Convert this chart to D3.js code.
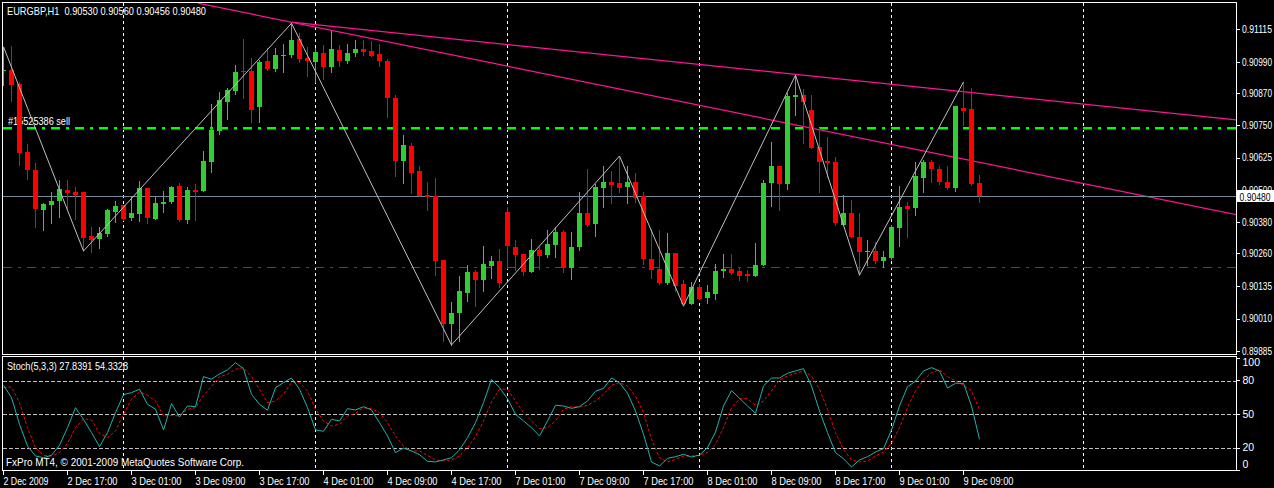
<!DOCTYPE html>
<html><head><meta charset="utf-8">
<script src="https://cdn.jsdelivr.net/npm/d3@7"></script>
<style>html,body{margin:0;padding:0;background:#000;overflow:hidden}text{font-family:"Liberation Sans",Arial,sans-serif}</style>
</head><body><svg id="c" width="1274" height="488"></svg>
<script>
const headerText = "EURGBP,H1  0.90530 0.90560 0.90456 0.90480";
const opens  = [0.90958,0.90961,0.90908,0.90648,0.90579,0.90427,0.90446,0.90461,0.90503,0.90495,0.90495,0.90327,0.90316,0.90335,0.90419,0.90446,0.90397,0.90413,0.90512,0.90393,0.90451,0.90457,0.90519,0.90388,0.90503,0.90499,0.90610,0.90728,0.90839,0.90881,0.90956,0.90958,0.90820,0.90996,0.90965,0.91015,0.91019,0.91080,0.91007,0.90992,0.91026,0.90973,0.91038,0.90996,0.91026,0.91042,0.91034,0.91022,0.90996,0.90854,0.90614,0.90671,0.90576,0.90484,0.90480,0.90235,0.89991,0.90033,0.90110,0.90190,0.90159,0.90213,0.90232,0.90419,0.90285,0.90259,0.90190,0.90274,0.90255,0.90293,0.90343,0.90205,0.90285,0.90415,0.90373,0.90511,0.90534,0.90530,0.90514,0.90534,0.90480,0.90239,0.90201,0.90148,0.90262,0.90144,0.90068,0.90132,0.90090,0.90106,0.90194,0.90201,0.90194,0.90182,0.90175,0.90217,0.90530,0.90595,0.90526,0.90858,0.90866,0.90809,0.90667,0.90614,0.90610,0.90369,0.90415,0.90324,0.90266,0.90270,0.90232,0.90243,0.90358,0.90442,0.90434,0.90549,0.90610,0.90583,0.90534,0.90511,0.90816,0.90812,0.90530];
const highs  = [0.91050,0.91053,0.90916,0.90679,0.90605,0.90455,0.90495,0.90541,0.90541,0.90516,0.90495,0.90363,0.90361,0.90432,0.90461,0.90446,0.90477,0.90537,0.90512,0.90477,0.90500,0.90518,0.90529,0.90516,0.90526,0.90652,0.90832,0.90877,0.90893,0.90981,0.91080,0.91006,0.91000,0.91044,0.91045,0.91061,0.91140,0.91103,0.91049,0.91047,0.91057,0.91112,0.91057,0.91061,0.91076,0.91076,0.91072,0.91061,0.91003,0.90866,0.90713,0.90682,0.90595,0.90534,0.90549,0.90236,0.90075,0.90175,0.90217,0.90197,0.90289,0.90251,0.90278,0.90438,0.90312,0.90259,0.90316,0.90285,0.90350,0.90362,0.90350,0.90343,0.90495,0.90583,0.90526,0.90595,0.90576,0.90633,0.90595,0.90568,0.90495,0.90354,0.90350,0.90339,0.90262,0.90159,0.90152,0.90144,0.90140,0.90220,0.90259,0.90259,0.90209,0.90197,0.90301,0.90541,0.90686,0.90595,0.90874,0.90942,0.90889,0.90866,0.90740,0.90706,0.90629,0.90484,0.90465,0.90415,0.90312,0.90304,0.90270,0.90369,0.90518,0.90457,0.90610,0.90618,0.90618,0.90595,0.90595,0.90825,0.90916,0.90893,0.90560];
const lows   = [0.90904,0.90843,0.90597,0.90544,0.90363,0.90350,0.90378,0.90401,0.90427,0.90391,0.90270,0.90267,0.90280,0.90327,0.90382,0.90388,0.90388,0.90385,0.90378,0.90392,0.90419,0.90454,0.90385,0.90378,0.90388,0.90498,0.90573,0.90718,0.90774,0.90869,0.90856,0.90764,0.90764,0.90961,0.90958,0.90954,0.91011,0.90992,0.90940,0.90914,0.90927,0.90954,0.90977,0.90988,0.91015,0.91019,0.91015,0.90977,0.90782,0.90556,0.90530,0.90491,0.90479,0.90427,0.90178,0.89926,0.89911,0.89926,0.90079,0.90060,0.90117,0.90167,0.90132,0.90205,0.90197,0.90178,0.90189,0.90201,0.90247,0.90247,0.90190,0.90163,0.90274,0.90365,0.90327,0.90438,0.90453,0.90495,0.90453,0.90457,0.90220,0.90167,0.90144,0.90144,0.90117,0.90060,0.90067,0.90086,0.90071,0.90087,0.90171,0.90182,0.90159,0.90155,0.90174,0.90216,0.90442,0.90427,0.90507,0.90790,0.90683,0.90662,0.90495,0.90553,0.90369,0.90368,0.90323,0.90178,0.90217,0.90224,0.90209,0.90239,0.90289,0.90324,0.90408,0.90495,0.90534,0.90526,0.90507,0.90499,0.90751,0.90522,0.90456];
const closes = [0.90963,0.90904,0.90646,0.90579,0.90432,0.90451,0.90461,0.90507,0.90492,0.90484,0.90320,0.90312,0.90340,0.90427,0.90442,0.90392,0.90416,0.90512,0.90397,0.90455,0.90457,0.90516,0.90388,0.90503,0.90497,0.90614,0.90732,0.90847,0.90885,0.90954,0.90953,0.90809,0.90992,0.90965,0.91019,0.91019,0.91076,0.91003,0.90996,0.91030,0.90973,0.91042,0.90996,0.91026,0.91042,0.91030,0.91015,0.90996,0.90854,0.90614,0.90675,0.90568,0.90480,0.90476,0.90232,0.89991,0.90033,0.90117,0.90190,0.90159,0.90220,0.90232,0.90148,0.90289,0.90255,0.90190,0.90274,0.90251,0.90297,0.90343,0.90205,0.90285,0.90415,0.90369,0.90515,0.90534,0.90522,0.90511,0.90534,0.90472,0.90239,0.90197,0.90148,0.90262,0.90136,0.90068,0.90132,0.90087,0.90113,0.90194,0.90201,0.90186,0.90175,0.90175,0.90217,0.90530,0.90595,0.90526,0.90862,0.90866,0.90839,0.90663,0.90610,0.90606,0.90377,0.90415,0.90324,0.90266,0.90270,0.90232,0.90247,0.90362,0.90438,0.90430,0.90557,0.90610,0.90583,0.90534,0.90511,0.90824,0.90805,0.90526,0.90480];
const timeLabels = ["2 Dec 2009","2 Dec 17:00","3 Dec 01:00","3 Dec 09:00","3 Dec 17:00","4 Dec 01:00","4 Dec 09:00","4 Dec 17:00","7 Dec 01:00","7 Dec 09:00","7 Dec 17:00","8 Dec 01:00","8 Dec 09:00","8 Dec 17:00","9 Dec 01:00","9 Dec 09:00"];
const timeLabelBars = [0,8,16,24,32,40,48,56,64,72,80,88,96,104,112,120];
const priceTicks = [0.91115,0.90990,0.90870,0.90750,0.90625,0.90500,0.90380,0.90260,0.90135,0.90010,0.89885];
const daySeparatorBars = [15,39,63,87,111,135];
const zigzagBars = [0,10,36,56,77,85,99,107,120];
const zigzagPrices = [0.91050,0.90270,0.91140,0.89911,0.90633,0.90060,0.90942,0.90178,0.90916];
const trendABars = [36,99], trendAPrices = [0.91144,0.90945];
const trendBBars = [24.3,120], trendBPrices = [0.91217,0.90621];
const orderPrice = 0.90745, orderLabel = "#15525386 sell";
const stopPrice = 0.90208;
const bidPrice = 0.90480;
const stochTitle = "Stoch(5,3,3) 27.8391 54.3328";
const copyrightText = "FxPro MT4, \u00a9 2001-2009 MetaQuotes Software Corp.";
const stochMain = [75.8,64.8,41.1,21.8,12.9,11.4,13.5,22.4,38.1,55.9,45.5,33.7,21.2,33.7,51.5,67.5,69.3,72.3,58.9,54.5,36.1,59.5,47.6,57.4,56.8,83.5,81.2,85.9,89.5,96.0,90.6,67.8,58.9,53.6,73.7,78.2,82.3,72.3,55.9,36.1,34.9,45.5,44.1,55.0,53.9,56.8,53.9,42.6,30.7,15.9,20.0,17.4,14.1,8.2,7.6,9.4,11.4,18.3,29.2,42.6,60.4,80.9,73.7,63.9,50.0,44.1,38.1,30.7,44.1,58.0,57.4,55.3,56.8,61.9,70.5,73.1,82.3,78.2,68.7,53.0,32.2,7.6,4.0,10.8,12.3,14.4,12.0,13.8,20.3,34.3,57.4,71.1,64.2,57.4,50.9,75.2,82.3,82.3,86.5,88.6,90.6,75.2,53.0,33.7,15.9,10.5,3.1,9.4,12.3,16.5,19.4,36.1,57.4,74.6,79.4,88.6,91.5,88.6,73.4,77.6,77.6,57.4,27.8391];
const stochSignal = [73.7,74.3,60.4,38.1,20.3,13.5,12.9,15.9,24.2,38.1,46.1,45.0,33.1,29.2,35.2,50.0,63.4,69.9,66.9,61.9,48.5,49.1,48.5,54.5,55.9,66.9,74.6,83.5,85.6,90.1,91.5,83.5,72.3,60.4,61.9,67.8,78.2,78.2,70.8,54.5,44.1,39.6,41.1,48.5,50.9,55.9,55.0,51.5,42.6,30.7,21.8,17.4,17.4,13.5,9.4,8.5,9.4,12.9,20.3,30.1,44.1,61.0,72.3,72.3,61.9,51.5,44.1,37.2,38.1,44.1,54.5,56.8,56.5,58.0,61.9,67.8,75.8,78.2,75.2,66.3,51.5,27.7,11.4,7.6,9.9,12.9,12.9,13.5,15.9,23.3,38.1,55.9,63.9,63.9,58.0,61.9,70.8,80.6,84.1,86.5,88.6,84.1,72.3,54.5,33.7,18.8,9.4,7.6,8.5,12.9,16.5,24.2,38.1,55.9,70.8,80.6,87.1,89.5,83.5,79.7,75.8,70.8,54.3328];
const stochLevels = [80,50,20];
const stochTicks = [100,80,50,20,0];

const W = 1274, H = 488;
const svg = d3.select("#c");
svg.append("rect").attr("width", W).attr("height", H).attr("fill", "#000");

const x = d3.scaleLinear().domain([0, 1]).range([3.5, 11.5]);
const y = d3.scaleLinear().domain([0.89885, 0.91115]).range([351.8, 29.8]);
const ys = d3.scaleLinear().domain([0, 100]).range([470.5, 358.1]);
const L = 2.5, R = 1236.5, MT = 2.5, MB = 354.5, ST = 356.5, SB = 470.5;

const defs = svg.append("defs");
defs.append("clipPath").attr("id", "cm").append("rect").attr("x", 3).attr("y", 3).attr("width", R - 3.5).attr("height", MB - 3.5);
defs.append("clipPath").attr("id", "cs").append("rect").attr("x", 3).attr("y", ST + 0.5).attr("width", R - 3.5).attr("height", SB - ST - 1);

const gm = svg.append("g").attr("clip-path", "url(#cm)");
const gs = svg.append("g").attr("clip-path", "url(#cs)");
const crisp = "crispEdges";

// vertical day separators
daySeparatorBars.forEach(b => {
  [[gm, MT, MB], [gs, ST, SB]].forEach(([g, t, bt]) => {
    g.append("line").attr("x1", x(b)).attr("x2", x(b)).attr("y1", t).attr("y2", bt)
      .attr("stroke", "#fff").attr("stroke-dasharray", "3,3").attr("shape-rendering", crisp);
  });
});

// stoch level grid
stochLevels.forEach(v => {
  gs.append("line").attr("x1", L).attr("x2", R).attr("y1", Math.round(ys(v)) + 0.5).attr("y2", Math.round(ys(v)) + 0.5)
    .attr("stroke", "#c0c0c0").attr("stroke-dasharray", "4,2").attr("shape-rendering", crisp);
});

// trend lines
function ray(bars, prices, g) {
  const slope = (prices[1] - prices[0]) / (bars[1] - bars[0]);
  const endBar = x.invert(R);
  const endPrice = prices[0] + slope * (endBar - bars[0]);
  g.append("line").attr("x1", x(bars[0])).attr("y1", y(prices[0])).attr("x2", x(endBar)).attr("y2", y(endPrice))
    .attr("stroke", "#ff1493").attr("stroke-width", 1.2);
}
ray(trendABars, trendAPrices, gm);
ray(trendBBars, trendBPrices, gm);

// order / stop lines
const hy = p => Math.round(y(p)) + 0.5;
const dd = "9,6,3,6";
gm.append("line").attr("x1", L).attr("x2", R).attr("y1", hy(orderPrice) + 2).attr("y2", hy(orderPrice) + 2)
  .attr("stroke", "#ff0000").attr("stroke-dasharray", dd).attr("shape-rendering", crisp);
gm.append("line").attr("x1", L).attr("x2", R).attr("y1", hy(orderPrice) + 0.5).attr("y2", hy(orderPrice) + 0.5)
  .attr("stroke", "#00ff00").attr("stroke-width", 2).attr("stroke-dasharray", dd).attr("shape-rendering", crisp);
gm.append("line").attr("x1", L).attr("x2", R).attr("y1", hy(stopPrice)).attr("y2", hy(stopPrice))
  .attr("stroke", "#ff0000").attr("stroke-dasharray", dd).attr("shape-rendering", crisp);
gm.append("text").attr("x", 8).attr("y", hy(orderPrice) - 3).attr("fill", "#fff").attr("font-size", 10.5)
  .attr("textLength", 62).attr("lengthAdjust", "spacingAndGlyphs").text(orderLabel);

// bid line
gm.append("line").attr("x1", L).attr("x2", R).attr("y1", hy(bidPrice)).attr("y2", hy(bidPrice))
  .attr("stroke", "#778899").attr("shape-rendering", crisp);

// candles
const idx = d3.range(opens.length);
const cg = gm.append("g").attr("shape-rendering", crisp);
idx.forEach(i => {
  const up = closes[i] >= opens[i];
  const col = up ? "#32cd32" : "#ff0000";
  const cx = x(i);
  const yh = Math.round(y(highs[i])), yl = Math.round(y(lows[i]));
  cg.append("rect").attr("x", cx - 0.5).attr("y", yh).attr("width", 1).attr("height", Math.max(1, yl - yh + 1)).attr("fill", col);
  const top = Math.round(y(Math.max(opens[i], closes[i]))), bot = Math.round(y(Math.min(opens[i], closes[i])));
  cg.append("rect").attr("x", cx - 2.5).attr("y", top).attr("width", 5).attr("height", Math.max(1, bot - top)).attr("fill", col);
});

// zigzag
gm.append("path").datum(zigzagBars.map((b, k) => [x(b), y(zigzagPrices[k])]))
  .attr("d", d3.line()).attr("fill", "none").attr("stroke", "#c0c0c0").attr("stroke-width", 1);

// stochastic
gs.append("path").datum(stochSignal).attr("fill", "none").attr("stroke", "#ff0000").attr("stroke-dasharray", "3,2")
  .attr("d", d3.line().x((d, i) => x(i)).y(d => ys(d)));
gs.append("path").datum(stochMain).attr("fill", "none").attr("stroke", "#20b2aa")
  .attr("d", d3.line().x((d, i) => x(i)).y(d => ys(d)));

// texts
function label(xx, yy, txt, len) {
  return svg.append("text").attr("x", xx).attr("y", yy).attr("fill", "#fff").attr("font-size", 10.5)
    .attr("xml:space", "preserve").attr("textLength", len).attr("lengthAdjust", "spacingAndGlyphs").text(txt);
}
label(7, 14.5, headerText, 199);
label(7, 370, stochTitle, 121);
label(6, 466, copyrightText, 238);

// borders
[[MT, MB], [ST, SB]].forEach(([t, b]) => {
  svg.append("rect").attr("x", L).attr("y", t).attr("width", R - L).attr("height", b - t)
    .attr("fill", "none").attr("stroke", "#fff").attr("shape-rendering", crisp);
});

// axes
function styleAxis(g) {
  g.select(".domain").remove();
  g.selectAll("line").attr("stroke", "#fff").attr("shape-rendering", crisp);
  g.selectAll("text").attr("fill", "#fff").attr("font-size", 10.5).attr("font-family", "Liberation Sans, Arial, sans-serif");
}
const pa = svg.append("g").attr("transform", `translate(${R},0)`)
  .call(d3.axisRight(y).tickValues(priceTicks).tickFormat(d3.format(".5f")).tickSize(3).tickPadding(2.5).offset(0));
styleAxis(pa);
pa.selectAll(".tick text").attr("textLength", 30).attr("lengthAdjust", "spacingAndGlyphs");

const sa = svg.append("g").attr("transform", `translate(${R},0)`)
  .call(d3.axisRight(ys).tickValues(stochTicks).tickFormat(d3.format("d")).tickSize(3).tickPadding(3).offset(0));
styleAxis(sa);
sa.selectAll(".tick text").attr("transform", d => d === 100 ? "translate(0,5)" : d === 0 ? "translate(0,-6)" : null);

const ta = svg.append("g").attr("transform", `translate(0,${SB})`)
  .call(d3.axisBottom(x).tickValues(timeLabelBars).tickFormat((d, k) => timeLabels[k]).tickSize(4).tickPadding(3).offset(0));
styleAxis(ta);
ta.selectAll(".tick text").attr("text-anchor", "start").attr("x", 0)
  .attr("textLength", (d, k) => k === 0 ? 45 : 50).attr("lengthAdjust", "spacingAndGlyphs");

// bid price box
const bidY = hy(bidPrice);
svg.append("rect").attr("x", R + 0.5).attr("y", bidY - 6.5).attr("width", W - R).attr("height", 12).attr("fill", "#fff");
svg.append("text").attr("x", R + 3).attr("y", bidY + 4).attr("fill", "#000").attr("font-size", 10.5)
  .attr("textLength", 31).attr("lengthAdjust", "spacingAndGlyphs").text(d3.format(".5f")(bidPrice));
</script></body></html>
